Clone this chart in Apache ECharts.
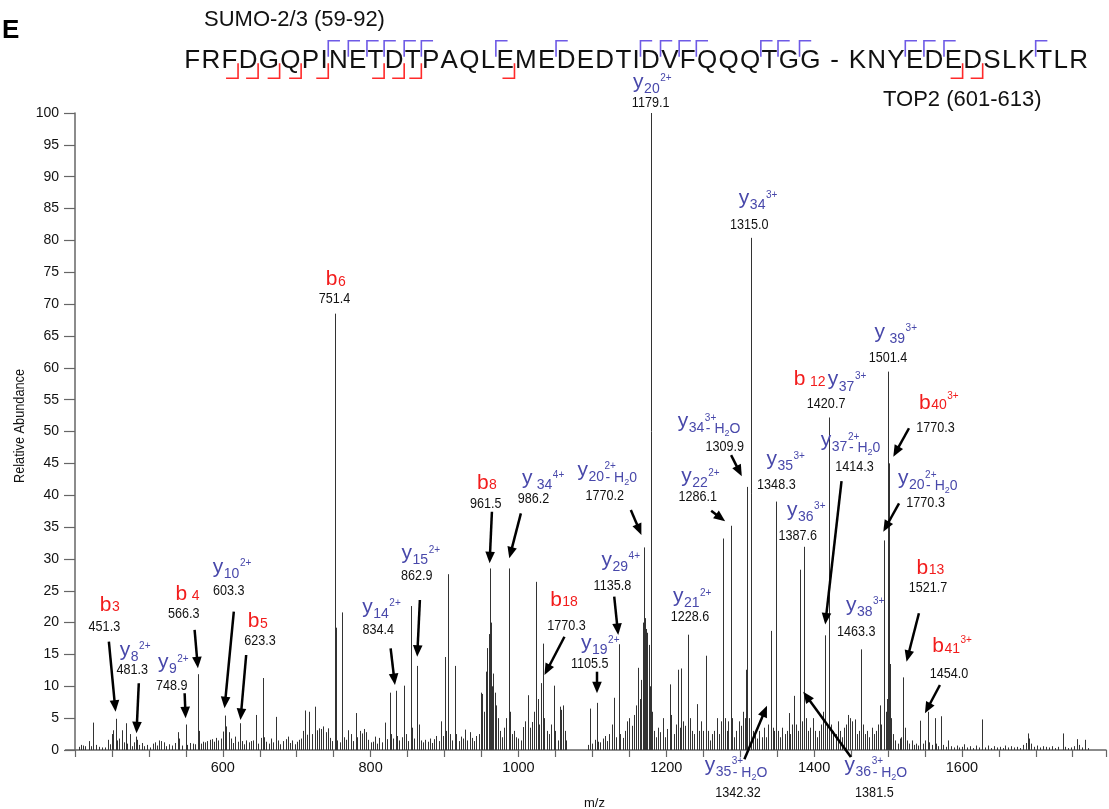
<!DOCTYPE html>
<html><head><meta charset="utf-8">
<script src="https://cdn.jsdelivr.net/npm/echarts@6/dist/echarts.min.js"></script>
<style>html,body{margin:0;padding:0;background:#fff}#chart{width:1109px;height:809px}</style>
</head><body><div id="chart"></div>
<script>
// ---------- DATA ----------
const peaks400to700 = [[405,0.5],[408,0.8],[411,0.7],[414,0.6],[418.5,1.4],[421,0.6],[424.9,4.3],[428,0.8],[432,0.5],[436,0.4],[440,0.4],[444.5,1.6],[447,0.9],[449.5,2.5],[451.3,3.1],[454.9,4.9],[457,1.5],[460,1.8],[463.5,3.1],[466,1.2],[468.8,4.2],[471,1.0],[474.5,2.5],[477,0.6],[480,1.2],[482.3,2.1],[484,1.6],[487,0.8],[490,1.1],[494,0.6],[497,0.8],[501,0.4],[505,1.0],[508,1.2],[511,0.7],[514,1.5],[517,1.4],[520,1.2],[523,0.6],[527,0.9],[531,0.7],[535,1.1],[539.3,2.8],[541,1.8],[545,0.7],[549.7,4.0],[552,0.8],[556,1.1],[560,1.0],[563,0.9],[566.5,11.9],[567.5,3.0],[570,1.0],[573,1.3],[576,1.2],[579,1.4],[582,1.6],[585,1.7],[588,1.3],[591,1.9],[594,1.5],[597,1.8],[600,2.9],[603.2,5.4],[604.5,3.7],[608,2.8],[611,1.8],[614,1.1],[617,2.1],[620,1.3],[623.9,4.2],[626,1.4],[629,0.9],[632,1.5],[635,1.2],[638,1.4],[641,1.5],[645,5.5],[648,1.0],[651,1.9],[654,11.3],[656,2.0],[659,1.3],[662,1.0],[665,1.8],[668,1.2],[672,5.2],[675,1.5],[678,0.9],[681,1.4],[685,1.7],[688,2.1],[691,1.1],[694,1.5],[697,0.9]];
const peaks700to1000 = [[700,1.3],[703,1.6],[706,1.8],[709,3.0],[711.5,6.2],[714,2.4],[717,6.0],[720,2.5],[724.6,6.8],[727,3.1],[730,3.4],[733,3.3],[736,3.7],[739,2.8],[742,3.4],[745,1.9],[748,1.4],[751.4,68.5],[752.4,33.0],[753.4,19.2],[755,1.5],[758,1.2],[761.8,21.6],[764,2.0],[767,1.6],[770,3.1],[773,2.5],[776,1.4],[779.9,5.8],[782,2.0],[785,3.0],[788,2.6],[791,3.3],[794,2.8],[797,1.6],[800,1.2],[803,1.3],[806,2.1],[809,1.0],[812,1.9],[815,1.2],[819.4,4.3],[822,1.7],[825.7,9.0],[828,2.5],[830,1.8],[833.8,9.3],[836,2.2],[839,1.5],[842,2.0],[845,10.1],[848,2.5],[851,1.4],[854,22.6],[856,3.5],[859,1.8],[863,13.2],[865,4.0],[868,1.5],[871,1.2],[874,1.6],[877,1.3],[880,1.8],[883,1.1],[886,1.7],[889,2.2],[892,1.4],[895,4.5],[898,2.2],[900.4,14.6],[902,3.0],[904.8,27.6],[907,2.5],[910,1.5],[913.6,13.2],[916,2.5],[919,1.4],[922,2.1],[925,1.8],[928,3.2],[931,1.5],[934,2.8],[937,1.9],[940,1.4],[943,2.2],[946,2.5],[949.8,9.0],[951,8.8],[953,6.0],[956,12.3],[958,16.0],[959.7,18.2],[961.1,28.5],[962.5,20.0],[964,10.0],[966,12.0],[968,9.0],[970,7.0],[972,5.0],[975,3.0],[978,2.0],[981,3.5],[983,5.0],[986.6,28.5],[988,6.0],[991,2.5],[994,3.0],[997,2.0]];
const peaks1000to1300 = [[1000,1.8],[1003,1.5],[1006,3.6],[1009,4.5],[1012.6,8.6],[1015,3.5],[1018,4.4],[1021,6.0],[1024,26.4],[1026,8.0],[1028,4.0],[1030.4,10.5],[1032.9,16.7],[1035,5.0],[1038,3.0],[1041,2.5],[1044,4.0],[1047.5,10.1],[1050,3.0],[1053,1.5],[1056,6.8],[1058,6.3],[1060.8,7.0],[1062.5,3.0],[1064.5,1.5],[1094,0.8],[1097.2,6.5],[1100,1.0],[1103,1.6],[1106.2,7.4],[1108,1.3],[1111,1.2],[1114,1.8],[1117,2.2],[1120,1.4],[1123,2.5],[1126,4.0],[1129.6,8.2],[1132,2.0],[1135.9,16.6],[1138,2.5],[1141,1.9],[1144,3.0],[1147,4.5],[1150,5.0],[1153,3.8],[1156,5.5],[1159,7.0],[1161.5,12.9],[1164,8.0],[1166,11.0],[1168,20.0],[1169.8,31.8],[1171,20.7],[1172.5,19.0],[1174.4,18.4],[1176.4,16.5],[1177.5,10.0],[1179.1,100],[1180.5,6.0],[1183,3.0],[1186,2.0],[1189,3.5],[1192,2.8],[1195.7,5.0],[1198,2.0],[1201,3.3],[1204.7,10.3],[1207,5.5],[1210,2.5],[1213,4.0],[1216,12.6],[1218,3.5],[1220.4,12.8],[1223,4.5],[1226,3.8],[1229.4,18.1],[1232,5.0],[1235,3.0],[1238,2.5],[1241,7.2],[1244,3.0],[1247,4.5],[1250,3.0],[1253.3,14.8],[1256,3.0],[1259,1.5],[1262,2.5],[1265,3.0],[1268,5.0],[1271,2.5],[1274,4.5],[1276.6,33.2],[1279,5.0],[1282,3.0],[1284,4.5],[1287,35.2],[1289,5.0],[1292,2.0],[1295,3.0],[1298,4.5]];
const peaks1300to1800 = [[1301,3.8],[1304,6.0],[1306,5.0],[1308,12.6],[1309.8,41.3],[1312,5.0],[1315,80.4],[1317,3.0],[1320,2.5],[1323,1.8],[1326,3.0],[1329,2.0],[1332,3.5],[1335,2.0],[1338,4.0],[1341.7,18.7],[1344,3.5],[1346,3.0],[1349,39.0],[1351,3.0],[1354,2.0],[1357,3.5],[1360,2.5],[1363,3.0],[1365.6,5.8],[1368,2.5],[1370,4.0],[1372.6,8.5],[1375,4.0],[1378,3.0],[1380.9,28.3],[1383,4.5],[1386.8,31.9],[1389,5.0],[1392,3.0],[1395,3.5],[1398,5.0],[1401,3.0],[1404,2.0],[1407,3.0],[1410,4.0],[1412,6.0],[1415.1,18.0],[1417,4.0],[1420.5,52.2],[1423,4.0],[1426,3.0],[1429,2.5],[1432,4.5],[1435,3.0],[1438,2.0],[1441,3.5],[1443,4.0],[1446,5.5],[1449,5.0],[1452,4.5],[1455,4.8],[1458,2.5],[1461,3.0],[1464,15.8],[1466,4.0],[1469,2.5],[1472,3.0],[1475,2.0],[1478,3.5],[1481,2.5],[1484,3.0],[1486,4.0],[1489.4,7.0],[1491,4.0],[1494.7,32.9],[1497,6.0],[1499,8.0],[1500.5,59.4],[1501.6,45.0],[1502.6,13.5],[1504,5.0],[1507,2.5],[1510,1.5],[1513,1.0],[1516,1.8],[1518,2.0],[1520.9,11.4],[1523,3.5],[1526,1.5],[1529,1.0],[1532,1.5],[1535,0.8],[1538,1.0],[1541,0.7],[1544,4.6],[1547,1.0],[1550,1.5],[1554,6.0],[1556,1.2],[1559,0.8],[1563,5.0],[1565,1.0],[1568,0.6],[1571.5,5.3],[1574,0.8],[1578,0.5],[1581,1.5],[1585,0.6],[1589,0.4],[1593,0.7],[1596,0.4],[1600,0.5],[1603,0.9],[1607,0.4],[1611,0.6],[1615,0.3],[1619,0.7],[1623,0.4],[1627.6,4.8],[1631,0.4],[1635,0.7],[1639,0.3],[1643,0.6],[1647,0.4],[1651,0.5],[1655,0.3],[1659,0.7],[1663,0.4],[1667,0.6],[1671,0.4],[1675,0.5],[1679,0.3],[1683,0.8],[1687,1.1],[1689.3,2.6],[1691,1.8],[1694,1.0],[1698,0.5],[1702,0.7],[1706,0.4],[1710,0.6],[1714,0.5],[1718,0.4],[1722,0.6],[1726,0.3],[1730,0.5],[1736.5,2.6],[1740,0.5],[1744,0.3],[1748,0.4],[1752,0.6],[1755.4,1.7],[1758,0.8],[1762,0.4],[1766.5,1.6],[1770,0.3]];

const xTickLabels = [600, 800, 1000, 1200, 1400, 1600];
const yTickLabels = [0,5,10,15,20,25,30,35,40,45,50,55,60,65,70,75,80,85,90,95,100];

const peptide1 = 'FRFDGQPINETDTPAQLEMEDEDTIDVFQQQTGG';
const peptide2 = 'KNYEDEDSLKTLR';
const bSites1 = [3,4,5,6,8,11,12,13,18];
const bSites2 = [6,7];
const ySites1 = [9,10,11,12,13,14,18,21,26,27,28,29,32,33,34];
const ySites2 = [4,5,6,11];

const annIon = ['b|3','y|8|2+','y|9|2+','b| 4','y|10|2+','b|5','b|6','y|14|2+','y|15|2+','b|8','y| 34|4+','y|20|2+|0','b|18','y|19|2+','y|29|4+','y|20|2+','y|21|2+','y|22|2+','y|34|3+|O','y|34|3+','y|35|3+','y|36|3+','b| 12','y|37|3+','y|37|2+|0','y|38|3+','y| 39|3+','b|40|3+','y|20|2+|0','b|13','b|41|3+','y|35|3+|O','y|36|3+|O'];
const annValue = ['451.3','481.3','748.9','566.3','603.3','623.3','751.4','834.4','862.9','961.5','986.2','1770.2','1770.3','1105.5','1135.8','1179.1','1228.6','1286.1','1309.9','1315.0','1348.3','1387.6','1420.7','','1414.3','1463.3','1501.4','1770.3','1770.3','1521.7','1454.0','1342.32','1381.5'];
const annMz = [454.9,483.2,549.7,566.3,602.3,623.9,751.4,832.9,863.0,961.0,987.6,1166.4,1035.2,1106.3,1135.0,1179.1,1229.4,1279.7,1302.2,1315.0,1349.0,1386.8,1420.5,1420.5,1415.1,1464.0,1501.4,1507.2,1493.7,1525.1,1550.0,1336.3,1385.4];
const annAbund = [6.01,2.62,4.98,12.83,6.55,4.71,68.5,10.2,14.65,29.31,30.09,33.75,11.77,8.9,18.05,100,18.1,35.92,42.98,80.4,39.0,31.9,52.2,52.2,19.72,15.8,59.4,46.05,34.27,13.86,5.76,6.95,9.14];

// ---------- LAYOUT (pixel offsets from each annotation anchor) ----------
const ionOffset = [[-15.7,-107],[-16.7,-83.1],[-27.7,-55.8],[-22.3,-74.3],[-11.7,-141.5],[7.3,-98.7],[-8.9,-34],[-32.7,-78.2],[-15.6,-103.2],[-12.7,-80.3],[12.6,-79.8],[-64,-64.8],[5.7,-75.3],[-16,-49.8],[-16.7,-74.8],[-17.7,-31.2],[-15,-38.4],[-44,-44.9],[-64,-54.7],[-12.4,-39.6],[-10,-42.2],[-17.3,-36.8],[-35.4,-37.8],[-1.4,-37.8],[-4.4,-183.9],[-15.4,-44.6],[-14.4,-39.8],[25.7,-53.7],[14.7,-53.2],[10,-93.7],[7.3,-67],[-62.3,59.5],[41.3,73.4]];
const valueOffset = [[-11.2,-84.5],[-4.2,-63.3],[-13.8,-32.5],[-14.1,-54.1],[4.2,-117.5],[19.5,-79.2],[-0.1,-14.5],[-16.8,-55],[-0.5,-80.9],[-3.8,-59.1],[24.3,-59.1],[-36.6,-39.2],[22,-49.2],[-7.2,-29.5],[-5.8,-49.2],[-0.2,-9.7],[2,-17.7],[-27.3,-24.2],[-17,-29.8],[-1.9,-13.2],[0,-16.8],[-6.5,-10.8],[-3.1,-13.2],[0,0],[29.3,-157.9],[-5.2,-17.6],[-1.1,-14.1],[42.3,-29.2],[42.3,-28.7],[21.5,-73.4],[24,-39.1],[-29,87.3],[71.1,101.2]];
const arrowFrom = [[-6.7,-70],[2.3,-50],[-1,-25],[-3.3,-38.3],[9.3,-96.6],[5.7,-65],null,[-4.3,-36.7],[2.7,-56.7],[2.3,-51.6],[11.6,-45],[-10.6,-25],[20,-38.3],[0,-21.6],[-4,-38.3],null,null,[-14,-10.5],[-10.7,-21.1],null,null,null,null,null,[16.3,-143.2],null,null,[15.7,-28.4],[15.7,-28.4],[12.4,-48.4],[15,-28.3],[-22.6,53.5],[47.6,65.2]];

// ---------- CHART ----------
const FF = "'Liberation Sans', Arial, Helvetica, sans-serif";
const RED = '#f21c1c', BLUE = '#4848aa', BRK_BLUE = '#6e5ae6', BRK_RED = '#ff2a2a';
const allPeaks = peaks400to700.concat(peaks700to1000, peaks1000to1300, peaks1300to1800);

const chart = echarts.init(document.getElementById('chart'), null, {renderer:'canvas'});
chart.setOption({
  animation: false,
  backgroundColor: '#fff',
  grid: {left: 75, right: 0, top: 113, bottom: 59, containLabel: false},
  xAxis: {
    type: 'value', min: 400, max: 1795, interval: 50,
    axisLine: {show: true, onZero: false, lineStyle: {color: '#666', width: 1.5}},
    axisTick: {show: true, length: 7, lineStyle: {color: '#666', width: 1.2}},
    axisLabel: {fontSize: 14.5, fontFamily: FF, color: '#111', margin: 10,
      formatter: v => xTickLabels.indexOf(v) >= 0 ? String(v) : ''},
    splitLine: {show: false}
  },
  yAxis: {
    type: 'value', min: 0, max: 100, interval: 5,
    axisLine: {show: true, lineStyle: {color: '#666', width: 1.5}},
    axisTick: {show: true, length: 11, lineStyle: {color: '#666', width: 1.2}},
    axisLabel: {fontSize: 14, fontFamily: FF, color: '#111', margin: 16,
      formatter: v => yTickLabels.indexOf(v) >= 0 ? String(v) : ''},
    splitLine: {show: false}
  },
  series: [{
    type: 'custom',
    data: allPeaks,
    encode: {x: 0, y: 1},
    clip: true,
    renderItem: function (params, api) {
      const mz = api.value(0), ab = api.value(1);
      const b = api.coord([mz, 0]);
      const t = api.coord([mz, ab]);
      const x = Math.round(b[0]) + 0.5;
      return {type: 'line', shape: {x1: x, y1: b[1], x2: x, y2: t[1]},
        style: {stroke: '#333', lineWidth: 1}};
    }
  }]
});

// ---------- ANNOTATIONS ----------
const mctx = document.createElement('canvas').getContext('2d');
function tw(s, font) { mctx.font = font; return mctx.measureText(s).width; }
function txt(s, x, y, font, fill, align, extra) {
  return Object.assign({type: 'text', x: x, y: y, silent: true, z: 100,
    style: {text: s, font: font, fill: fill, align: align, verticalAlign: 'middle',
      textAlign: align, textVerticalAlign: 'middle'}}, extra || {});
}
const els = [];

function ionLabel(markup, x0, y0) {
  const parts = markup.split('|');
  const letter = parts[0], sub = parts[1] || '', sup = parts[2] || '', tail = parts[3] || '';
  const color = letter === 'b' ? RED : BLUE;
  const fMain = '21px ' + FF, fSub = '14px ' + FF, fSup = '10px ' + FF, fTiny = '9px ' + FF;
  els.push(txt(letter, x0, y0, fMain, color, 'left'));
  let x = x0 + tw(letter, fMain) + 0.5;
  const subDy = letter === 'b' ? 2.5 : 7;
  els.push(txt(sub, x, y0 + subDy, fSub, color, 'left'));
  x += tw(sub, fSub);
  if (sup) els.push(txt(sup, x + 0.5, y0 + (letter === 'b' ? -6.5 : -3.5), fSup, color, 'left'));
  if (tail) {
    let tx = x + 1.5;
    els.push(txt('- H', tx, y0 + 7.5, fSub, color, 'left'));
    tx += tw('- H', fSub);
    els.push(txt('2', tx, y0 + 12, fTiny, color, 'left'));
    tx += tw('2', fTiny);
    els.push(txt(tail, tx, y0 + 7.5, fSub, color, 'left'));
  }
}
function arrow(sx, sy, tx, ty) {
  const dx = tx - sx, dy = ty - sy, L = Math.hypot(dx, dy);
  const ux = dx / L, uy = dy / L, hl = 11.5, hw = 4.8;
  const bx = tx - ux * hl, by = ty - uy * hl;
  els.push({type: 'line', silent: true, z: 90, shape: {x1: sx, y1: sy, x2: bx + ux, y2: by + uy},
    style: {stroke: '#000', lineWidth: 2.5}});
  els.push({type: 'polygon', silent: true, z: 90,
    shape: {points: [[tx, ty], [bx - uy * hw, by + ux * hw], [bx + uy * hw, by - ux * hw]]},
    style: {fill: '#000'}});
}

for (let i = 0; i < annIon.length; i++) {
  const p = chart.convertToPixel({xAxisIndex: 0, yAxisIndex: 0}, [annMz[i], annAbund[i]]);
  ionLabel(annIon[i], p[0] + ionOffset[i][0], p[1] + ionOffset[i][1]);
  if (annValue[i]) {
    els.push(txt(annValue[i], p[0] + valueOffset[i][0], p[1] + valueOffset[i][1],
      '15px ' + FF, '#111', 'center', {scaleX: 0.84}));
  }
  if (arrowFrom[i]) arrow(p[0] + arrowFrom[i][0], p[1] + arrowFrom[i][1], p[0], p[1]);
}

// x-axis line stub left of the y-axis
const origin = chart.convertToPixel({xAxisIndex: 0, yAxisIndex: 0}, [400, 0]);
els.push({type: 'line', silent: true, shape: {x1: origin[0] - 10, y1: origin[1], x2: origin[0], y2: origin[1]},
  style: {stroke: '#666', lineWidth: 1.5}});

// axis titles
els.push(txt('Relative Abundance', 19.5, 426, '15px ' + FF, '#111', 'center', {rotation: Math.PI / 2, scaleX: 0.85}));
els.push(txt('m/z', 594.5, 803.5, '13px ' + FF, '#111', 'center'));

// header
els.push(txt('E', 2, 30.5, 'bold 26px ' + FF, '#000', 'left'));
els.push(txt('SUMO-2/3 (59-92)', 204, 19.5, '22px ' + FF, '#111', 'left'));
els.push(txt('TOP2 (601-613)', 883, 100, '22px ' + FF, '#111', 'left'));

// sequence with fragmentation brackets
const seqText = peptide1 + ' - ' + peptide2;
const seqFont = '26px ' + FF;
const chars = seqText.split('');
const widths = chars.map(c => tw(c, seqFont));
const totalW = widths.reduce((a, b) => a + b, 0);
const seqLeft = 184.3, seqRight = 1088;
const gap = (seqRight - seqLeft - totalW) / (chars.length - 1);
const xs = [];
let cx = seqLeft;
for (let i = 0; i < chars.length; i++) {
  xs.push(cx);
  if (chars[i] !== ' ') els.push(txt(chars[i], cx, 60.5, seqFont, '#111', 'left'));
  cx += widths[i] + gap;
}
function boundary(i) { return xs[i] + widths[i] + gap / 2; }
const off2 = peptide1.length + 3;
function redBracket(b) {
  els.push({type: 'polyline', silent: true, shape: {points: [[b, 63.3], [b, 78.3], [b - 12, 78.3]]},
    style: {stroke: BRK_RED, lineWidth: 1.6, fill: null}});
}
function blueBracket(b) {
  els.push({type: 'polyline', silent: true, shape: {points: [[b, 56.7], [b, 40.7], [b + 11.7, 40.7]]},
    style: {stroke: BRK_BLUE, lineWidth: 1.6, fill: null}});
}
bSites1.forEach(k => redBracket(boundary(k - 1)));
bSites2.forEach(k => redBracket(boundary(off2 + k - 1)));
ySites1.forEach(k => blueBracket(boundary(k - 2)));
ySites2.forEach(k => blueBracket(boundary(off2 + k - 2)));

chart.setOption({graphic: {elements: els}});
</script>
</body></html>
